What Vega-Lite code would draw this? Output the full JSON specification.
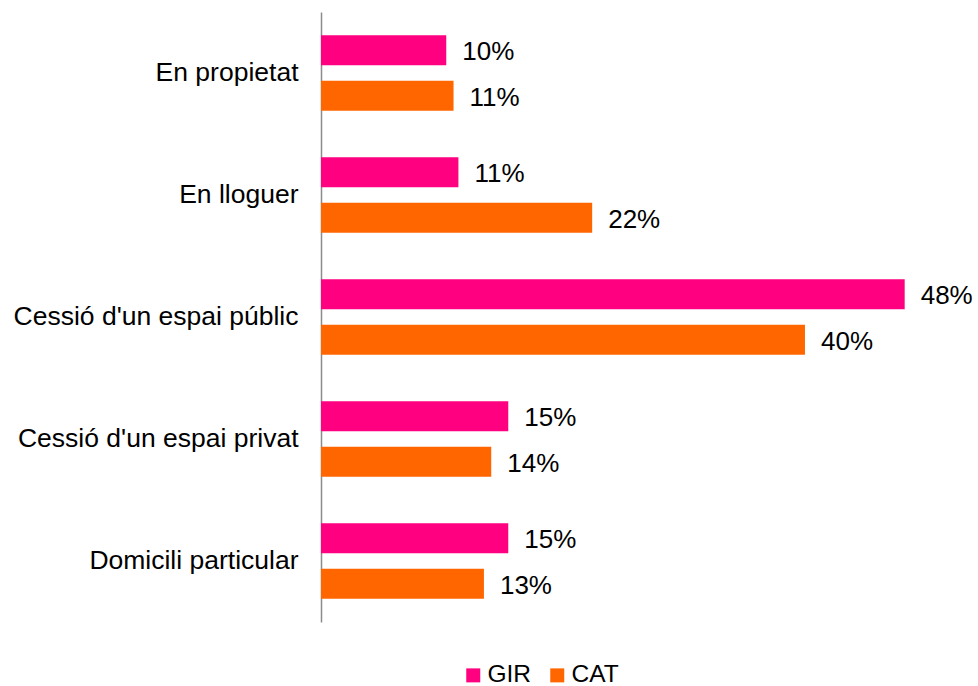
{
  "$schema": "https://vega.github.io/schema/vega-lite/v6.json",
  "width": 608,
  "height": 610,
  "autosize": "none",
  "padding": {"left": 321, "top": 12, "right": 49, "bottom": 64},
  "background": "white",
  "config": {"view": {"stroke": null}, "font": "Liberation Sans"},
  "data": {
    "values": [
      {"cat": "En propietat", "serie": "GIR", "v": 0.103},
      {"cat": "En propietat", "serie": "CAT", "v": 0.109},
      {"cat": "En lloguer", "serie": "GIR", "v": 0.113},
      {"cat": "En lloguer", "serie": "CAT", "v": 0.223},
      {"cat": "Cessió d'un espai públic", "serie": "GIR", "v": 0.48},
      {"cat": "Cessió d'un espai públic", "serie": "CAT", "v": 0.398},
      {"cat": "Cessió d'un espai privat", "serie": "GIR", "v": 0.154},
      {"cat": "Cessió d'un espai privat", "serie": "CAT", "v": 0.14},
      {"cat": "Domicili particular", "serie": "GIR", "v": 0.154},
      {"cat": "Domicili particular", "serie": "CAT", "v": 0.134}
    ]
  },
  "encoding": {
    "y": {
      "field": "cat",
      "type": "nominal",
      "sort": ["En propietat", "En lloguer", "Cessió d'un espai públic", "Cessió d'un espai privat", "Domicili particular"],
      "scale": {"paddingInner": 0.38, "paddingOuter": 0.19},
      "axis": {
        "title": null,
        "ticks": false,
        "labelFontSize": 26.5,
        "labelFont": "Liberation Sans",
        "labelColor": "black",
        "labelPadding": 23,
        "labelLimit": 400,
        "domainColor": "#8c8c8c",
        "domainWidth": 1.5
      }
    },
    "yOffset": {
      "field": "serie",
      "type": "nominal",
      "sort": ["GIR", "CAT"],
      "scale": {"paddingInner": 0.343, "paddingOuter": 0}
    },
    "x": {
      "field": "v",
      "type": "quantitative",
      "scale": {"domain": [0, 0.5], "nice": false},
      "axis": null
    }
  },
  "layer": [
    {
      "mark": {"type": "bar"},
      "encoding": {
        "color": {
          "field": "serie",
          "type": "nominal",
          "sort": ["GIR", "CAT"],
          "scale": {"domain": ["GIR", "CAT"], "range": ["#FF0080", "#FF6600"]},
          "legend": {
            "orient": "none",
            "legendX": 140,
            "legendY": 651,
            "direction": "horizontal",
            "title": null,
            "symbolType": "square",
            "symbolSize": 196,
            "symbolStrokeWidth": 0,
            "labelFontSize": 24.5,
            "labelFont": "Liberation Sans",
            "labelColor": "black",
            "labelOffset": 2,
            "columnPadding": 13
          }
        }
      }
    },
    {
      "mark": {"type": "text", "align": "left", "baseline": "middle", "dx": 16, "dy": 2, "fontSize": 26, "font": "Liberation Sans", "color": "black"},
      "encoding": {
        "text": {"field": "v", "type": "quantitative", "format": ".0%"}
      }
    }
  ]
}
